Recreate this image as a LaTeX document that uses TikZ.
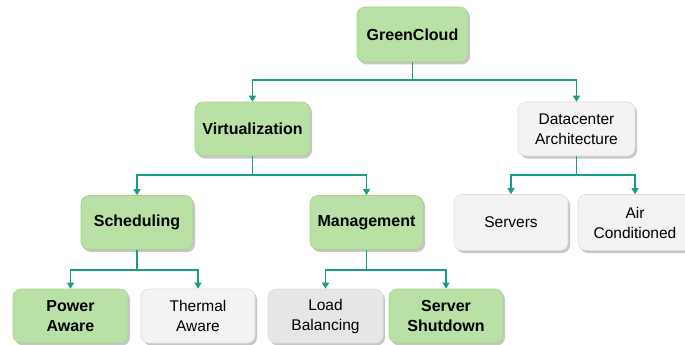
\documentclass[tikz,border=0pt]{standalone}
\usepackage{fontspec}
\setmainfont{Liberation Sans}
\usetikzlibrary{shadows,arrows.meta}
\definecolor{gfill}{HTML}{B9E0A5}
\definecolor{gline}{HTML}{A9D18E}
\definecolor{lfill}{HTML}{F3F3F3}
\definecolor{lline}{HTML}{DDDDDD}
\definecolor{dfill}{HTML}{E6E6E6}
\definecolor{edgec}{HTML}{1A9E83}
\tikzset{
  box/.style={rounded corners=8pt, minimum width=113pt, minimum height=54pt, align=center,
    font=\fontsize{15.5}{20}\selectfont, inner sep=2pt,
    drop shadow={shadow xshift=2pt, shadow yshift=-2.5pt, opacity=0.22, fill=black}},
  gbox/.style={box, fill=gfill, draw=gline, line width=0.6pt, font=\fontsize{16}{20}\selectfont\bfseries},
  lbox/.style={box, fill=lfill, draw=lline, line width=0.6pt},
  dbox/.style={box, fill=dfill, draw=lline, line width=0.6pt},
  edge/.style={draw=edgec, line width=1.3pt, -{Triangle[width=7pt,length=6pt]}}
}
\begin{document}
\begin{tikzpicture}[x=1pt,y=1pt]
\useasboundingbox (0,0) rectangle (685,-345);
\begin{scope}
\clip (0,0) rectangle (685,-345);
\node[gbox, minimum width=111pt, minimum height=55pt] (g) at (412.5,-34.5) {GreenCloud};
\node[gbox, minimum width=115pt] (v) at (252.5,-129) {Virtualization};
\node[lbox, minimum width=117pt] (d) at (576.5,-129) {Datacenter\\Architecture};
\node[gbox, minimum width=112pt] (s) at (137,-222.5) {Scheduling};
\node[gbox] (m) at (366.5,-222.5) {Management};
\node[lbox, minimum width=114pt, minimum height=56pt] (sv) at (511,-222.5) {Servers};
\node[lbox, minimum width=114pt, minimum height=56pt] (ac) at (635,-222.5) {Air\\Conditioned};
\node[gbox, minimum width=115pt] (pa) at (70.5,-316) {Power\\Aware};
\node[lbox, minimum width=114pt] (ta) at (198,-316) {Thermal\\Aware};
\node[dbox, minimum width=115pt] (lb) at (325.5,-316) {Load\\Balancing};
\node[gbox, minimum width=114pt] (ss) at (446,-316) {Server\\Shutdown};
\end{scope}
\coordinate (gb) at (412.5,-80);
\coordinate (vb) at (252.5,-175);
\coordinate (db) at (576.5,-175);
\coordinate (sb) at (137,-270);
\coordinate (mb) at (366.5,-270);
\draw[edge,-] (g.south) -- (gb);
\draw[edge] (gb) -| (v.north);
\draw[edge] (gb) -| (d.north);
\draw[edge,-] (v.south) -- (vb);
\draw[edge] (vb) -| (s.north);
\draw[edge] (vb) -| (m.north);
\draw[edge,-] (d.south) -- (db);
\draw[edge] (db) -| (sv.north);
\draw[edge] (db) -| (ac.north);
\draw[edge,-] (s.south) -- (sb);
\draw[edge] (sb) -| (pa.north);
\draw[edge] (sb) -| (ta.north);
\draw[edge,-] (m.south) -- (mb);
\draw[edge] (mb) -| (lb.north);
\draw[edge] (mb) -| (ss.north);
\end{tikzpicture}
\end{document}
